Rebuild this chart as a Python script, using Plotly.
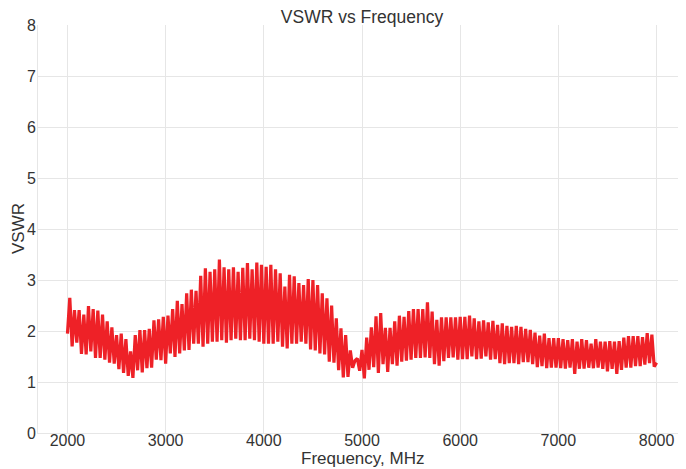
import numpy as np
import plotly.graph_objects as go

# VSWR extremes, in frequency order (2000 -> 8000 MHz)
vswr_2000_2950 = [1.95, 2.65, 1.70, 2.41, 1.77, 2.41, 1.55, 2.32, 1.54, 2.49,
                  1.60, 2.43, 1.47, 2.40, 1.47, 2.32, 1.44, 2.19, 1.38, 2.07,
                  1.36, 1.92, 1.25, 1.95, 1.18, 1.84, 1.12, 1.60, 1.08, 1.92,
                  1.23, 2.02, 1.19, 2.02, 1.27, 2.04, 1.28, 2.21, 1.44, 2.23,
                  1.43]
vswr_2975_3905 = [2.28, 1.36, 2.30, 1.56, 2.43, 1.49, 2.59, 1.56, 2.53, 1.62,
                  2.74, 1.63, 2.81, 1.75, 2.79, 1.75, 3.08, 1.69, 3.23, 1.75,
                  3.16, 1.79, 3.21, 1.79, 3.40, 1.82, 3.25, 1.77, 3.21, 1.82,
                  3.25, 1.85, 3.16, 1.82, 3.24, 1.82, 3.33, 1.85, 3.21, 1.82]
vswr_3930_4975 = [3.34, 1.79, 3.30, 1.75, 3.26, 1.75, 3.30, 1.75, 3.21, 1.79,
                  3.13, 1.69, 2.87, 1.66, 3.10, 1.75, 3.07, 1.75, 2.94, 1.79,
                  2.90, 1.75, 3.02, 1.64, 3.00, 1.62, 2.90, 1.56, 2.74, 1.54,
                  2.64, 1.40, 2.50, 1.38, 2.25, 1.23, 2.05, 1.09, 1.92, 1.10,
                  1.62, 1.28, 1.42, 1.46, 1.22]
vswr_5000_6905 = [1.63, 1.07, 1.87, 1.24, 2.07, 1.29, 2.29, 1.18, 2.35, 1.35,
                  2.06, 1.20, 2.06, 1.35, 2.19, 1.32, 2.30, 1.40, 2.28, 1.42,
                  2.39, 1.44, 2.43, 1.47, 2.43, 1.47, 2.43, 1.48, 2.56, 1.47,
                  2.38, 1.35, 2.22, 1.32, 2.27, 1.41, 2.27, 1.47, 2.27, 1.48,
                  2.27, 1.44, 2.28, 1.45, 2.28, 1.45, 2.30, 1.50, 2.25, 1.45,
                  2.19, 1.46, 2.21, 1.50, 2.17, 1.44, 2.20, 1.45, 2.12, 1.37,
                  2.15, 1.35, 2.10, 1.37, 2.08, 1.37, 2.10, 1.35, 2.08, 1.39,
                  2.04, 1.39, 2.02, 1.35, 1.97, 1.29, 1.91, 1.31, 1.95, 1.27,
                  1.86]
vswr_6930_8000 = [1.28, 1.86, 1.28, 1.86, 1.27, 1.84, 1.26, 1.82, 1.28, 1.84,
                  1.16, 1.79, 1.26, 1.84, 1.26, 1.82, 1.28, 1.75, 1.27, 1.84,
                  1.28, 1.79, 1.26, 1.79, 1.21, 1.80, 1.26, 1.79, 1.16, 1.80,
                  1.24, 1.87, 1.28, 1.90, 1.28, 1.90, 1.31, 1.90, 1.31, 1.88,
                  1.34, 1.96, 1.37, 1.93, 1.30, 1.38]

vswr = (vswr_2000_2950 + vswr_2975_3905 + vswr_3930_4975
        + vswr_5000_6905 + vswr_6930_8000)
freq_start, freq_stop = 2000, 8000
freq = np.linspace(freq_start, freq_stop, len(vswr))

x_ticks = [2000, 3000, 4000, 5000, 6000, 7000, 8000]
y_ticks = [0, 1, 2, 3, 4, 5, 6, 7, 8]

FONT = "Liberation Sans, Arial, sans-serif"
TXT = "#333333"
GRID = "#e6e6e6"

W, H = 678, 461          # page body has an 8px margin
ML, MR, MT, MB = 30, 0, 17, 36
plot_h = H - MT - MB
plot_w = W - ML - MR

fig = go.Figure()
fig.add_trace(go.Scatter(x=freq, y=vswr, mode="lines",
                         line=dict(color="#ee2127", width=3.2),
                         showlegend=False, hoverinfo="x+y"))

fig.update_layout(
    width=W, height=H,
    margin=dict(l=ML, r=MR, t=MT, b=MB),
    paper_bgcolor="white", plot_bgcolor="white",
    font=dict(family=FONT, size=16, color=TXT),
    title=dict(text="VSWR vs Frequency", x=0.5, xref="paper",
               y=1 - 9 / H, yref="container", xanchor="center",
               yanchor="middle", font=dict(size=17.5, color=TXT)),
    xaxis=dict(range=[1700, 8300], tickvals=x_ticks, showgrid=True,
               gridcolor=GRID, gridwidth=1, zeroline=False,
               showline=True, linecolor=GRID, ticks="",
               ticklabelstandoff=-7,
               tickfont=dict(size=16, color=TXT), automargin=False),
    yaxis=dict(range=[0, 8], tickvals=y_ticks, showgrid=True,
               gridcolor=GRID, gridwidth=1, zeroline=False,
               showline=True, linecolor=GRID, ticks="",
               ticklabelstandoff=-2,
               tickfont=dict(size=16, color=TXT), automargin=False),
    annotations=[
        dict(text="Frequency, MHz", xref="paper", yref="paper",
             x=0.5, y=-((458 - 8) - (H - MB)) / plot_h,
             xanchor="center", yanchor="middle", showarrow=False,
             font=dict(size=17, color=TXT)),
        dict(text="VSWR", xref="paper", yref="paper",
             x=-(ML - (18 - 8)) / plot_w, y=0.5, textangle=-90,
             xanchor="center", yanchor="middle", showarrow=False,
             font=dict(size=17, color=TXT)),
    ],
)

fig.write_html("out.html")
